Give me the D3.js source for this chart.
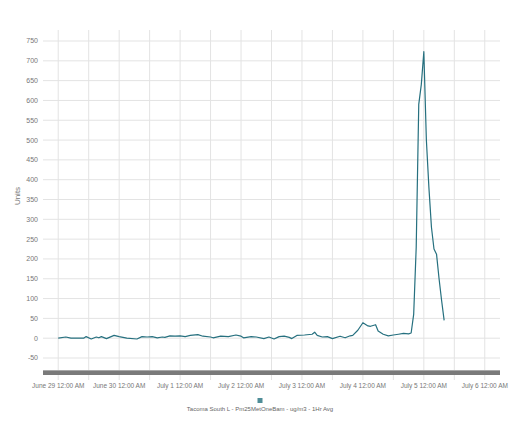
<!DOCTYPE html>
<html>
<head>
<meta charset="utf-8">
<script src="https://cdn.jsdelivr.net/npm/d3@7"></script>
<style>
  body { margin: 0; background: #fff; }
  svg text { font-family: "Liberation Sans", Arial, sans-serif; }
</style>
</head>
<body>
<div id="chart"></div>
<script>
// Hours since June 29 00:00 and the 1 hr PM2.5 average read at that hour
const hours = [0, 3, 5, 10, 11, 13, 15, 16, 17, 19, 22, 24, 27, 31, 33, 35, 37, 39, 41, 42,
  44, 46, 48, 50, 52, 55, 57, 60, 61, 64, 67, 70, 72, 73, 76, 78, 81, 83, 85, 87,
  89, 91, 92, 94, 97, 100, 101, 102, 104, 106, 108, 111, 113, 115, 116, 118, 120, 122, 123, 125,
  126, 128, 130, 132, 134, 136, 138, 139, 140, 141, 142, 143, 144, 145, 146, 147, 148, 149, 150, 151, 152];
const values = [0, 3, 0, 0, 4, -2, 3, 1, 4, -1, 7, 4, 0, -2, 4, 3, 4, 1, 3, 2,
  6, 5, 6, 4, 7, 9, 5, 3, 1, 5, 4, 8, 5, 1, 4, 3, -1, 3, -2, 4,
  5, 2, -1, 7, 8, 10, 15, 7, 3, 4, -1, 5, 1, 6, 7, 20, 39, 31, 30, 34,
  18, 10, 6, 8, 10, 12, 11, 13, 60, 230, 590, 640, 723, 500, 380, 280, 225, 212, 150, 95, 45];
const yTicks = [-50, 0, 50, 100, 150, 200, 250, 300, 350, 400, 450, 500, 550, 600, 650, 700, 750];
const seriesName = "Tacoma South L - Pm25MetOneBam - ug/m3 - 1Hr Avg";

const start = Date.UTC(2024, 5, 29);
const hourMs = 3600 * 1000;
const data = hours.map((h, i) => ({ t: new Date(start + h * hourMs), v: values[i] }));

const W = 520, H = 427;
const plotLeft = 43, plotRight = 500, plotTop = 30, plotBottom = 380;

const svg = d3.select("#chart").append("svg").attr("width", W).attr("height", H);

const x = d3.scaleUtc()
  .domain([new Date(start - 6 * hourMs), new Date(start + 174 * hourMs)])
  .range([plotLeft, plotRight]);
const y = d3.scaleLinear().domain([-50, 750]).range([358, 41]);

// vertical grid every 12 hours
const vTicks = x.ticks(d3.utcHour.every(12));
svg.append("g").selectAll("line").data(vTicks).join("line")
  .attr("x1", d => x(d)).attr("x2", d => x(d))
  .attr("y1", plotTop).attr("y2", plotBottom)
  .attr("stroke", "#e3e3e3").attr("stroke-width", 1);

// horizontal grid + labels
svg.append("g").selectAll("line").data(yTicks).join("line")
  .attr("x1", plotLeft).attr("x2", plotRight)
  .attr("y1", d => y(d)).attr("y2", d => y(d))
  .attr("stroke", "#e3e3e3").attr("stroke-width", 1);

svg.append("g").selectAll("text").data(yTicks).join("text")
  .attr("x", 38).attr("y", d => y(d)).attr("dy", "0.35em")
  .attr("text-anchor", "end").attr("font-size", 7).attr("fill", "#777")
  .text(d => d);

svg.append("text")
  .attr("transform", "translate(20,196) rotate(-90)")
  .attr("text-anchor", "middle").attr("font-size", 8).attr("fill", "#777")
  .text("Units");

// series
const line = d3.line().x(d => x(d.t)).y(d => y(d.v));
svg.append("path").datum(data)
  .attr("d", line)
  .attr("fill", "none").attr("stroke", "#26707f").attr("stroke-width", 1.2)
  .attr("stroke-linejoin", "round");

// navigator bar
svg.append("rect").attr("x", plotLeft).attr("y", 370).attr("width", plotRight - plotLeft).attr("height", 5)
  .attr("fill", "#7a7a7a");
svg.append("line").attr("x1", plotLeft).attr("x2", plotRight).attr("y1", 370.5).attr("y2", 370.5)
  .attr("stroke", "#a8a8a8");

// x labels, one per day
const dayTicks = x.ticks(d3.utcDay.every(1));
const fmt = d3.utcFormat("%B %-d %-I:%M %p");
svg.append("g").selectAll("text").data(dayTicks).join("text")
  .attr("x", d => x(d)).attr("y", 386).attr("dy", "0.35em")
  .attr("text-anchor", "middle").attr("font-size", 6.5).attr("fill", "#777")
  .text(d => fmt(d));

// legend
svg.append("rect").attr("x", 257.5).attr("y", 398).attr("width", 5).attr("height", 5)
  .attr("fill", "#4f8d98");
svg.append("text").attr("x", 260).attr("y", 409).attr("dy", "0.35em")
  .attr("text-anchor", "middle").attr("font-size", 6).attr("fill", "#666")
  .text(seriesName);
</script>
</body>
</html>
